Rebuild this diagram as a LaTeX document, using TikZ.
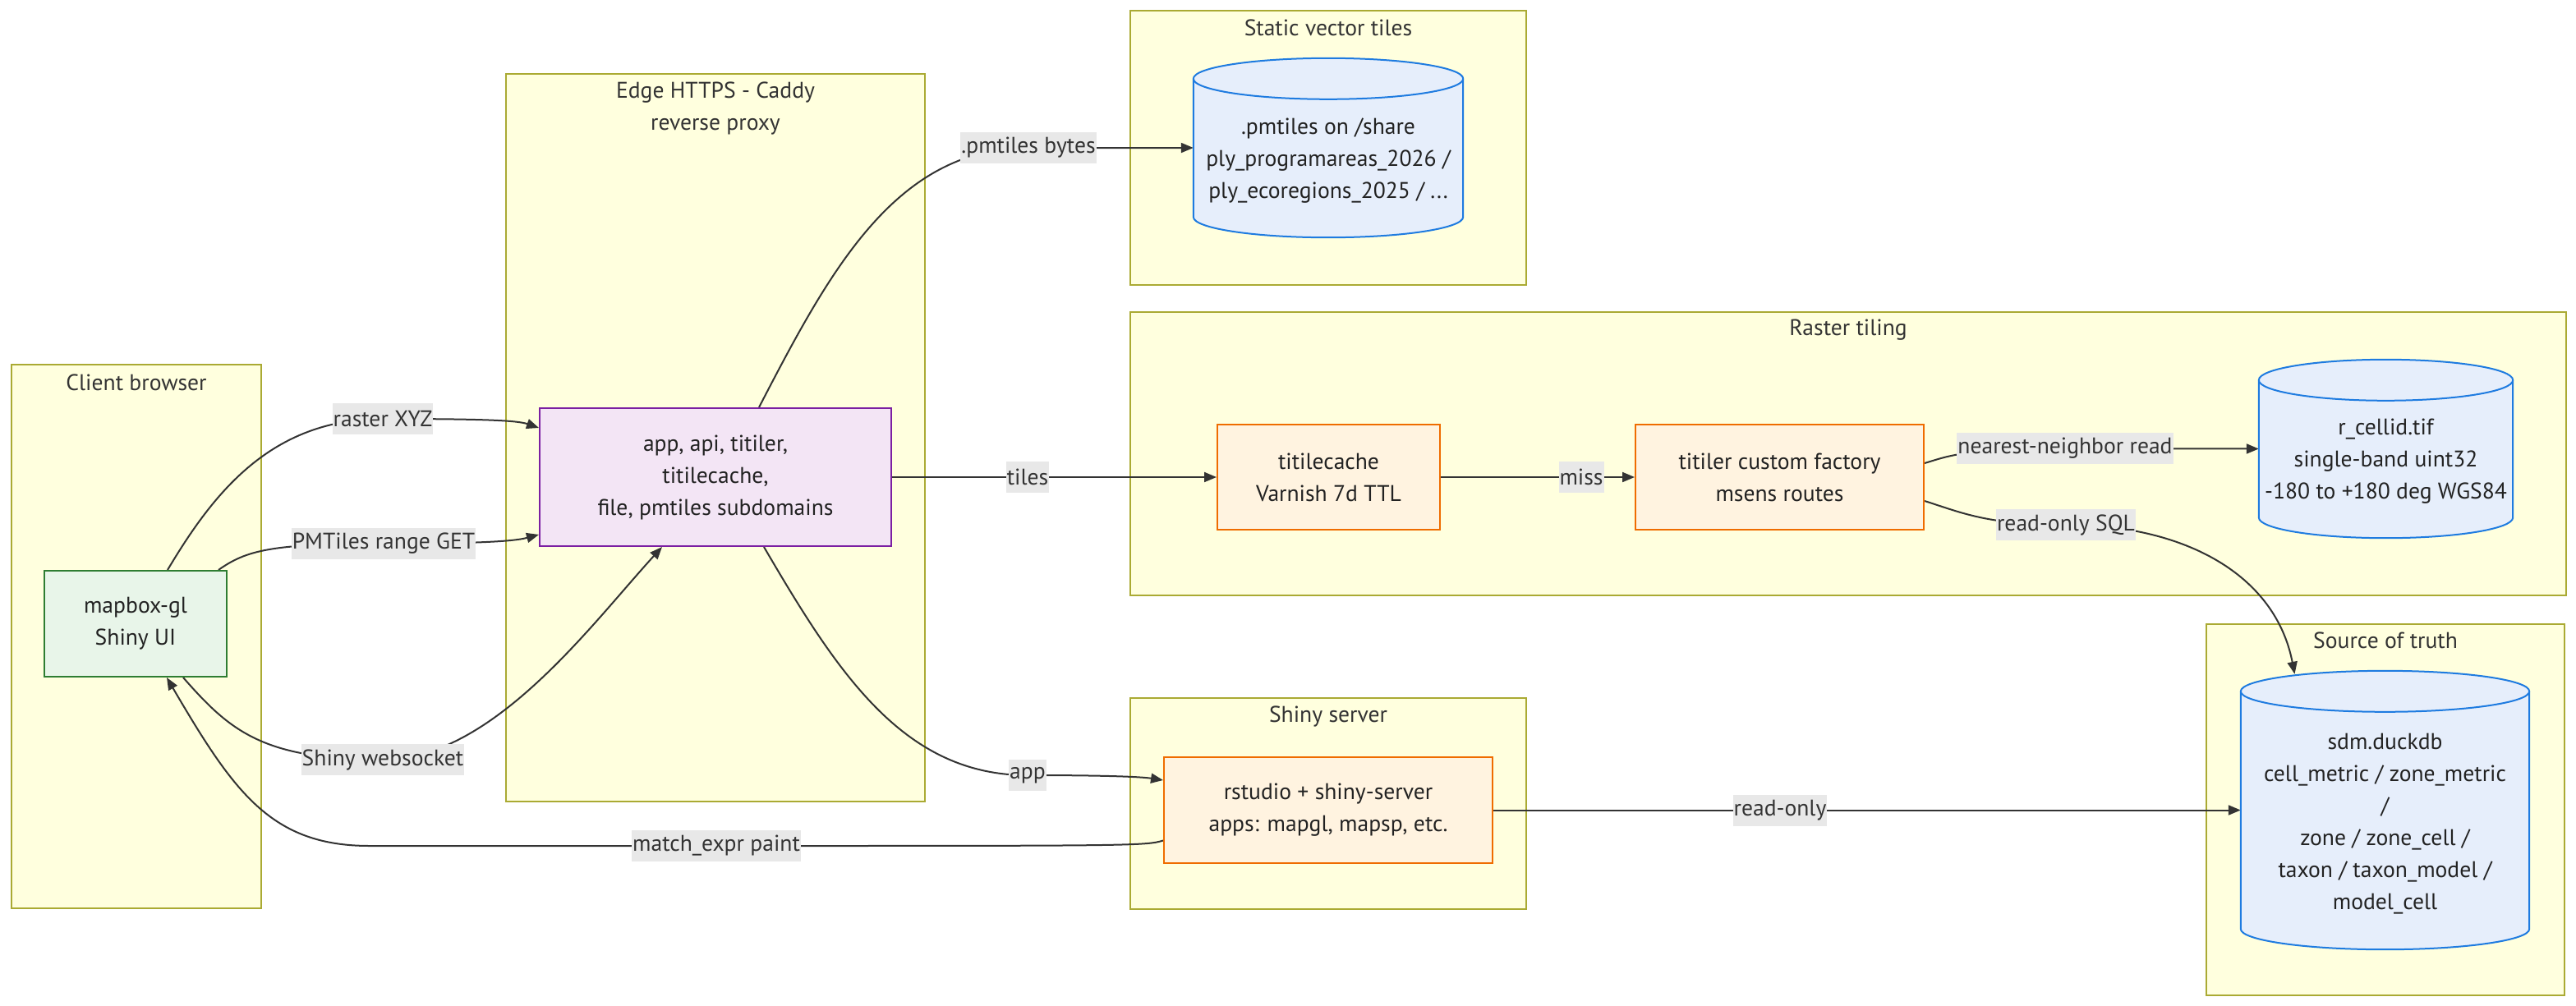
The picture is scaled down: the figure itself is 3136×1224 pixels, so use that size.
\documentclass[tikz,border=0pt]{standalone}
\usepackage{fontspec}
\setmainfont{PT Sans}
\usetikzlibrary{arrows.meta,calc}
\pgfdeclarelayer{background}
\pgfdeclarelayer{edges}
\pgfdeclarelayer{cyl}
\pgfsetlayers{background,edges,cyl,main}
\definecolor{clfill}{HTML}{FFFFDE}
\definecolor{cldraw}{HTML}{AAAA33}
\definecolor{gfill}{HTML}{E8F5E9}
\definecolor{gdraw}{HTML}{2E7D32}
\definecolor{pfill}{HTML}{F3E5F5}
\definecolor{pdraw}{HTML}{7B1FA2}
\definecolor{ofill}{HTML}{FFF3E0}
\definecolor{odraw}{HTML}{EF6C00}
\definecolor{bfill}{HTML}{E6EEFB}
\definecolor{bdraw}{HTML}{1E7BE0}
\definecolor{edgec}{HTML}{333333}
\definecolor{lblfill}{HTML}{E8E8E8}
\definecolor{txt}{HTML}{222222}
\newcommand{\dbshape}[1]{%
\begin{pgfonlayer}{cyl}
\path let \p1=(#1.north west), \p2=(#1.south east), \n1={(\x2-\x1)/2} in
 [dbcyl] (\x1,\y1-25pt) -- (\x1,\y2+25pt) arc[start angle=180,end angle=360,x radius=\n1,y radius=25pt]
 -- (\x2,\y1-25pt) arc[start angle=0,end angle=180,x radius=\n1,y radius=25pt] -- cycle;
\path let \p1=(#1.north west), \p2=(#1.south east), \n1={(\x2-\x1)/2} in
 [draw=bdraw,line width=2pt] (\x1,\y1-25pt) arc[start angle=180,end angle=360,x radius=\n1,y radius=25pt];
\end{pgfonlayer}}
\begin{document}
\begin{tikzpicture}[x=1pt,y=1pt,
  every node/.style={font=\fontsize{27.6}{39}\selectfont, text=txt},
  cluster/.style={fill=clfill, draw=cldraw, line width=2pt},
  ctitle/.style={align=center, text=edgec, inner sep=0pt},
  gbox/.style={draw=gdraw, fill=gfill, line width=2pt, align=center, inner sep=0pt},
  pbox/.style={draw=pdraw, fill=pfill, line width=2pt, align=center, inner sep=0pt},
  obox/.style={draw=odraw, fill=ofill, line width=2pt, align=center, inner sep=0pt},
  dbbox/.style={draw=none, inner sep=0pt},
  dbtext/.style={align=center, inner sep=0pt},
  dbcyl/.style={fill=bfill, draw=bdraw, line width=2pt},
  lbl/.style={fill=lblfill, text=edgec, inner xsep=1pt, inner ysep=0pt, minimum height=38pt},
  arr/.style={draw=edgec, line width=2pt, -{Triangle[length=15pt,width=12pt]}}
]
\useasboundingbox (0,0) rectangle (3136,-1224);

% clusters
\begin{pgfonlayer}{background}
\draw[cluster] (14,-444) rectangle (318,-1106);
\draw[cluster] (616,-90) rectangle (1126,-976);
\draw[cluster] (1376,-13) rectangle (1858,-347);
\draw[cluster] (1376,-380) rectangle (3124,-725);
\draw[cluster] (1376,-850) rectangle (1858,-1107);
\draw[cluster] (2686,-760) rectangle (3122,-1212);
\end{pgfonlayer}
\node[ctitle] (t1) at (166,-466) {Client browser};
\node[ctitle] (t2) at (871,-132) {Edge HTTPS - Caddy\\reverse proxy};
\node[ctitle] (t3) at (1617,-34) {Static vector tiles};
\node[ctitle] (t4) at (2250,-402) {Raster tiling};
\node[ctitle] (t5) at (1617,-872) {Shiny server};
\node[ctitle] (t6) at (2904,-780) {Source of truth};

% nodes
\node[gbox, minimum width=222pt, minimum height=129pt] (mb) at (165,-759.5) {mapbox-gl\\Shiny UI};
\node[pbox, minimum width=428pt, minimum height=168pt] (en) at (871,-581) {app, api, titiler,\\titilecache,\\file, pmtiles subdomains};
\node[obox, minimum width=271pt, minimum height=128pt] (tt) at (1617.5,-581) {titilecache\\Varnish 7d TTL};
\node[obox, minimum width=351pt, minimum height=128pt] (tf) at (2166.5,-581) {titiler custom factory\\msens routes};
\node[obox, minimum width=400pt, minimum height=129pt] (rs) at (1617,-986.5) {rstudio + shiny-server\\apps: mapgl, mapsp, etc.};
\node[dbbox, minimum width=328pt, minimum height=218pt] (pm) at (1617,-180) {};
\node[dbbox, minimum width=309pt, minimum height=217pt] (rc) at (2904.5,-546.5) {};
\node[dbbox, minimum width=351pt, minimum height=339pt] (sdm) at (2903.5,-986.5) {};
\dbshape{pm}
\dbshape{rc}
\dbshape{sdm}
\node[dbtext] (pmt) at (1617,-196) {.pmtiles on /share\\ply\_programareas\_2026 /\\ply\_ecoregions\_2025 / ...};
\node[dbtext] (rct) at (2904.5,-562) {r\_cellid.tif\\single-band uint32\\-180 to +180 deg WGS84};
\node[dbtext] (sdmt) at (2903.5,-1003) {sdm.duckdb\\cell\_metric / zone\_metric\\/\\zone / zone\_cell /\\taxon / taxon\_model /\\model\_cell};

% edge labels
\node[lbl] (l1) at (466,-510) {raster XYZ};
\node[lbl] (l2) at (467,-662) {PMTiles range GET};
\node[lbl] (l3) at (466,-925) {Shiny websocket};
\node[lbl] (l4) at (872,-1030) {match\_expr paint};
\node[lbl] (l5) at (1251,-944) {app};
\node[lbl] (l6) at (1252,-180) {.pmtiles bytes};
\node[lbl] (l7) at (1251,-581) {tiles};
\node[lbl] (l8) at (1925,-581) {miss};
\node[lbl] (l9) at (2514,-546) {nearest-neighbor read};
\node[lbl] (l10) at (2515,-639) {read-only SQL};
\node[lbl] (l11) at (2167,-987) {read-only};

% edges
\begin{pgfonlayer}{edges}
\draw[arr] ([xshift=39pt]mb.north) .. controls (260,-600) and (330,-510) .. (l1.center)
  .. controls (590,-510) and (630,-512) .. ([yshift=60pt]en.west);
\draw[arr] ([xshift=101pt]mb.north) .. controls (300,-670) and (330,-662) .. (l2.center)
  .. controls (600,-662) and (630,-658) .. ([yshift=-70pt]en.west);
\draw[arr] ([xshift=58pt]mb.south) .. controls (280,-890) and (320,-925) .. (l3.center)
  .. controls (600,-925) and (720,-760) .. ([xshift=-65pt]en.south);
\draw[arr] ([yshift=-37pt]rs.west) .. controls (1395,-1030) and (1380,-1030) .. (l4.center)
  -- (450,-1030) .. controls (330,-1030) and (285,-965) .. ([xshift=38pt]mb.south);
\draw[arr] ([xshift=59pt]en.south) .. controls (1020,-820) and (1100,-944) .. (l5.center)
  .. controls (1350,-944) and (1390,-946) .. ([yshift=36.5pt]rs.west);
\draw[arr] ([xshift=53pt]en.north) .. controls (1010,-330) and (1090,-180) .. (l6.center) -- (pm.west);
\draw[arr] (en.east) -- (tt.west);
\draw[arr] (tt.east) -- (tf.west);
\draw[arr] ([yshift=17pt]tf.east) .. controls (2370,-556) and (2390,-546) .. (l9.center) -- (rc.west);
\draw[arr] ([yshift=-29pt]tf.east) .. controls (2390,-625) and (2420,-639) .. (l10.center)
  .. controls (2660,-639) and (2770,-700) .. ([xshift=-110pt,yshift=-4pt]sdm.north);
\draw[arr] (rs.east) -- (sdm.west);
\end{pgfonlayer}
\end{tikzpicture}
\end{document}
